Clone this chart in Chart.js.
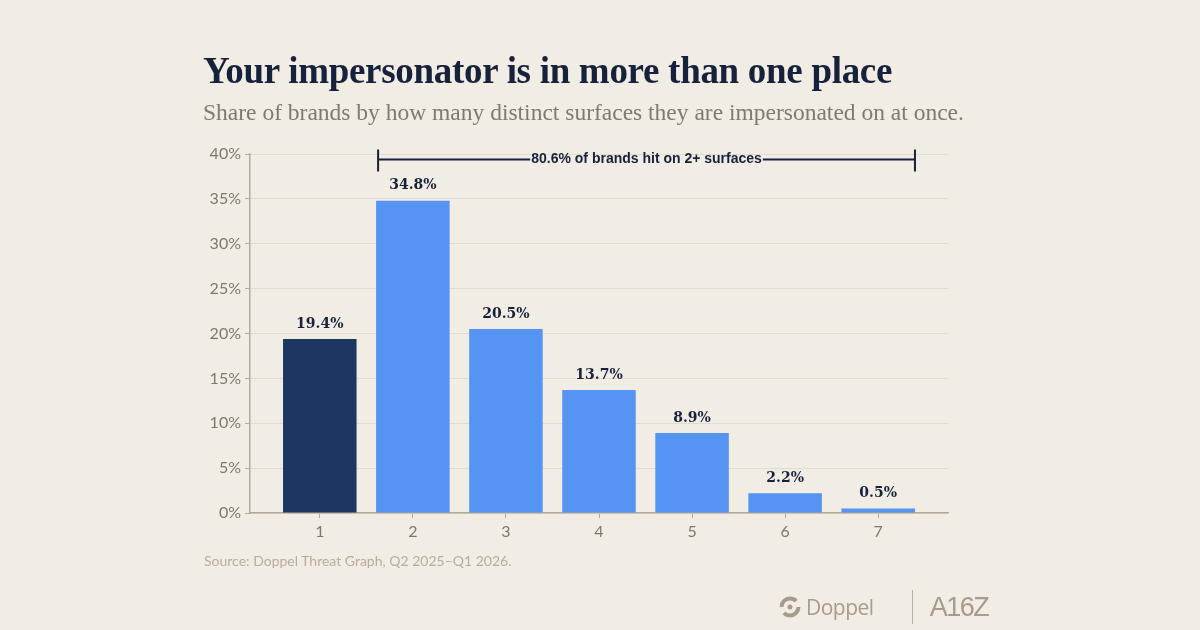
<!DOCTYPE html>
<html>
<head>
<meta charset="utf-8">
<script src="https://cdn.jsdelivr.net/npm/chart.js@4.4.1/dist/chart.umd.min.js"></script>
<style>
  html, body { margin: 0; padding: 0; }
  body { width: 1200px; height: 630px; background: #f1ece4; position: relative; overflow: hidden; }
  #wrap { position: absolute; left: 0; top: 0; width: 1200px; height: 630px; }
  .title { position: absolute; left: 203px; top: 49px; font-family: "Liberation Serif", serif; font-weight: bold;
           font-size: 37px; color: #16213b; letter-spacing: -0.3px; white-space: nowrap; }
  .subtitle { position: absolute; left: 203px; top: 99px; font-family: "Liberation Serif", serif;
              font-size: 23.5px; color: #7f796e; white-space: nowrap; }
  .source { position: absolute; left: 204px; top: 552px; font-family: Lato, sans-serif; font-size: 14px;
            color: #b7ad9c; white-space: nowrap; }
  .logos { position: absolute; left: 779px; top: 590px; height: 34px; display: flex; align-items: center;
           color: #a69c8b; font-family: "Open Sans", sans-serif; }
  .doppel { font-size: 21px; margin-left: 5px; letter-spacing: -0.5px; }
  .divider { width: 1px; height: 34px; background: #b9af9f; margin: 0 17px 0 38px; }
  .a16z { font-family: "Liberation Sans Narrow", "Liberation Sans", sans-serif; font-size: 27px; letter-spacing: -1.5px; }
</style>
</head>
<body>
<div id="wrap"><canvas id="chart" width="1200" height="630"></canvas></div>
<div class="title">Your impersonator is in more than one place</div>
<div class="subtitle">Share of brands by how many distinct surfaces they are impersonated on at once.</div>
<div class="source">Source: Doppel Threat Graph, Q2 2025–Q1 2026.</div>
<div class="logos">
  <svg width="22" height="22" viewBox="0 0 22 22">
    <circle cx="11" cy="11" r="8.5" fill="none" stroke="#a69c8b" stroke-width="4" stroke-dasharray="20 6.7"/>
    <circle cx="11" cy="11" r="2.5" fill="#a69c8b"/>
  </svg>
  <span class="doppel">Doppel</span>
  <span class="divider"></span>
  <span class="a16z">A16Z</span>
</div>
<script>
// данные
const surfaces = ['1', '2', '3', '4', '5', '6', '7'];
const shares = [19.4, 34.8, 20.5, 13.7, 8.9, 2.2, 0.5];
const barColors = ['#1d3762', '#5594f2', '#5594f2', '#5594f2', '#5594f2', '#5594f2', '#5594f2'];
const yTicks = [0, 5, 10, 15, 20, 25, 30, 35, 40];
const bracketText = '80.6% of brands hit on 2+ surfaces';
const bracketFrom = 2;
const bracketTo = 7;
const bracketLevel = 39.4;

const axisColor = '#b3a998';
const gridColor = '#e2dbcf';
const inkColor = '#16213b';

// подписи над столбцами
const valueLabels = {
    id: 'valueLabels',
    afterDatasetsDraw(chart) {
        const ctx = chart.ctx;
        const meta = chart.getDatasetMeta(0);
        ctx.save();
        ctx.fillStyle = inkColor;
        ctx.font = 'bold 14px "DejaVu Serif", serif';
        ctx.textAlign = 'center';
        ctx.textBaseline = 'bottom';
        meta.data.forEach((bar, i) => {
            ctx.fillText(shares[i].toFixed(1) + '%', bar.x, bar.y - 8);
        });
        ctx.restore();
    }
};

// скобка "2+ surfaces"
const bracket = {
    id: 'bracket',
    afterDatasetsDraw(chart) {
        const ctx = chart.ctx;
        const meta = chart.getDatasetMeta(0);
        const first = meta.data[bracketFrom - 1];
        const last = meta.data[bracketTo - 1];
        const x1 = first.x - first.width / 2 + 2;
        const x2 = last.x + last.width / 2;
        const y = chart.scales.y.getPixelForValue(bracketLevel);
        ctx.save();
        ctx.font = 'bold 14px "Liberation Sans Narrow", "Liberation Sans", sans-serif';
        const tw = ctx.measureText(bracketText).width;
        const cx = (x1 + x2) / 2;
        ctx.strokeStyle = inkColor;
        ctx.lineWidth = 2;
        ctx.beginPath();
        ctx.moveTo(x1, y); ctx.lineTo(cx - tw / 2 - 1, y);
        ctx.moveTo(cx + tw / 2 + 1, y); ctx.lineTo(x2, y);
        ctx.moveTo(x1, y - 10); ctx.lineTo(x1, y + 12);
        ctx.moveTo(x2, y - 10); ctx.lineTo(x2, y + 12);
        ctx.stroke();
        ctx.fillStyle = inkColor;
        ctx.textAlign = 'center';
        ctx.textBaseline = 'middle';
        ctx.fillText(bracketText, cx, y);
        ctx.restore();
    }
};

const ctx = document.getElementById('chart').getContext('2d');
new Chart(ctx, {
    type: 'bar',
    data: {
        datasets: [{
            data: shares.map((v, i) => ({ x: i + 1, y: v })),
            backgroundColor: barColors,
            borderWidth: 0,
            barPercentage: 0.79,
            categoryPercentage: 1
        }]
    },
    options: {
        responsive: false,
        animation: false,
        layout: { padding: { left: 190, right: 252, top: 154, bottom: 87 } },
        plugins: { legend: { display: false }, tooltip: { enabled: false } },
        scales: {
            x: {
                type: 'linear',
                min: 0.25,
                max: 7.75,
                offset: false,
                afterBuildTicks(scale) {
                    scale.ticks = surfaces.map((s, i) => ({ value: i + 1 }));
                },
                afterFit(scale) { scale.height = 30; },
                ticks: {
                    callback: (v) => surfaces[v - 1],
                    color: '#7f776b',
                    font: { family: 'Lato', size: 16 },
                    padding: 4
                },
                grid: { offset: false, drawOnChartArea: false, drawTicks: true, tickLength: 5, tickColor: axisColor },
                border: { color: axisColor, width: 1.5 }
            },
            y: {
                min: 0,
                max: 40,
                afterBuildTicks(scale) {
                    scale.ticks = yTicks.map(v => ({ value: v }));
                },
                afterFit(scale) { scale.width = 60; },
                ticks: {
                    callback: (v) => v + '%',
                    color: '#7f776b',
                    font: { family: 'Lato', size: 16 },
                    padding: 4
                },
                grid: { color: gridColor, lineWidth: 1, tickLength: 5, tickColor: axisColor },
                border: { color: axisColor, width: 1.5 }
            }
        }
    },
    plugins: [valueLabels, bracket]
});
</script>
</body>
</html>
